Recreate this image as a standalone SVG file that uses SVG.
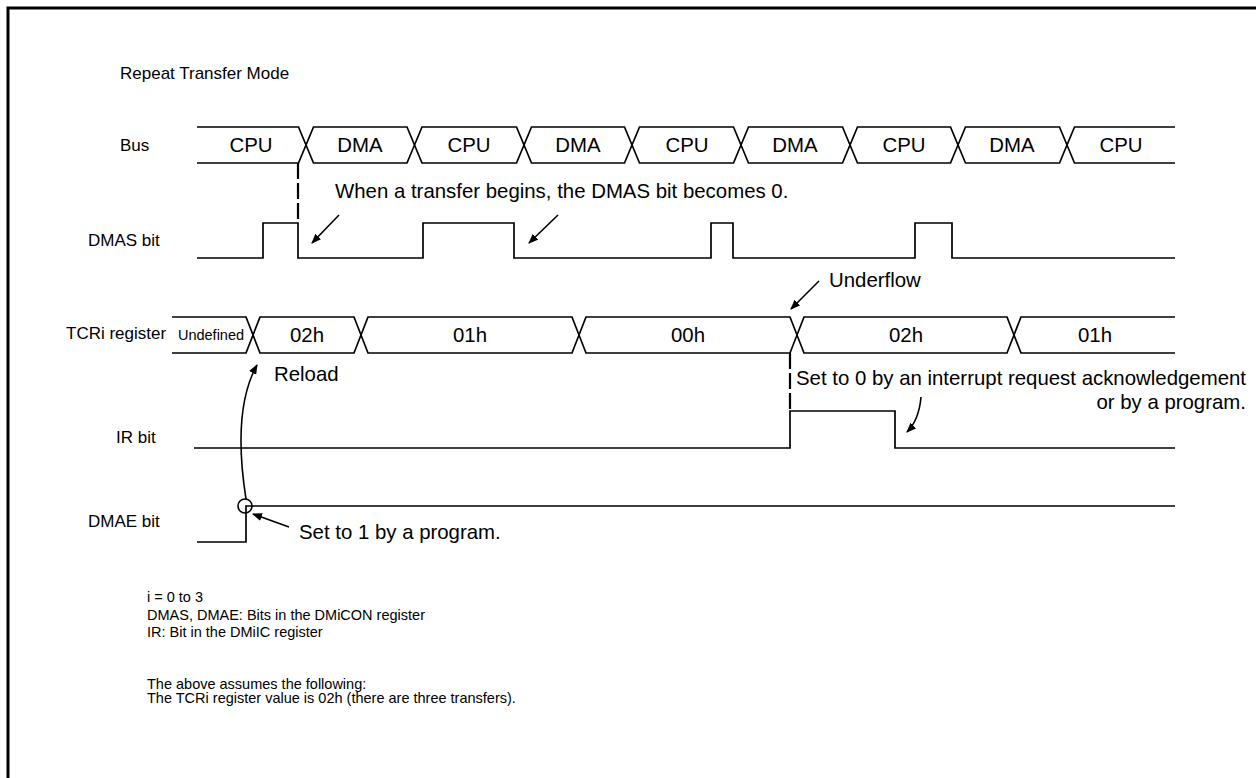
<svg xmlns="http://www.w3.org/2000/svg" width="1256" height="778" viewBox="0 0 1256 778">
<style>
text{font-family:"Liberation Sans",Arial,sans-serif;fill:#000}
.lbl{font-size:17px}
.big{font-size:20.4px}
.note{font-size:14.5px}
.sig{fill:none;stroke:#000;stroke-width:1.7}
.dash{fill:none;stroke:#000;stroke-width:2.2;stroke-dasharray:16 4}
.arr{fill:none;stroke:#000;stroke-width:1.6;marker-end:url(#ah)}
</style>
<defs>
<marker id="ah" viewBox="0 0 10 8" refX="9" refY="4" markerWidth="10" markerHeight="8" markerUnits="userSpaceOnUse" orient="auto">
<path d="M0,0 L10,4 L0,8 z" fill="#000"/>
</marker>
</defs>
<rect width="1256" height="778" fill="#fff"/>
<path d="M8,778 V8 H1256" fill="none" stroke="#000" stroke-width="3"/>
<text class="lbl" x="120" y="79">Repeat Transfer Mode</text>

<g id="labels">
<text class="lbl" x="120" y="151">Bus</text>
<text class="lbl" x="88" y="246">DMAS bit</text>
<text class="lbl" x="66" y="339">TCRi register</text>
<text class="lbl" x="116" y="443">IR bit</text>
<text class="lbl" x="88" y="527">DMAE bit</text>
</g>

<g id="bus">
<path class="sig" d="M197,163 H298.5 L313.5,127 H407 L422,163 H516.5 L531.5,127 H624.5 L639.5,163 H733.5 L748.5,127 H842.5 L857.5,163 H950.5 L965.5,127 H1059.5 L1074.5,163 H1175"/>
<path class="sig" d="M197,127 H298.5 L313.5,163 H407 L422,127 H516.5 L531.5,163 H624.5 L639.5,127 H733.5 L748.5,163 H842.5 L857.5,127 H950.5 L965.5,163 H1059.5 L1074.5,127 H1175"/>
<g class="big" text-anchor="middle">
<text x="251" y="152">CPU</text>
<text x="360" y="152">DMA</text>
<text x="469" y="152">CPU</text>
<text x="578" y="152">DMA</text>
<text x="687" y="152">CPU</text>
<text x="795" y="152">DMA</text>
<text x="904" y="152">CPU</text>
<text x="1012" y="152">DMA</text>
<text x="1121" y="152">CPU</text>
</g>
</g>

<g id="dmas">
<path class="sig" d="M197,258 H263 V223 H298 V258 H423 V223 H514 V258 H711 V223 H733 V258 H915 V223 H952 V258 H1175"/>
<text class="big" x="335" y="198">When a transfer begins, the DMAS bit becomes 0.</text>
</g>

<g id="tcri">
<path class="sig" d="M172,317 H246 L260,353 H354 L368,317 H572 L586,353 H790 L804,317 H1007 L1021,353 H1175"/>
<path class="sig" d="M172,353 H246 L260,317 H354 L368,353 H572 L586,317 H790 L804,353 H1007 L1021,317 H1175"/>
<text x="211" y="340" style="font-size:14.5px" text-anchor="middle">Undefined</text>
<g class="big" text-anchor="middle">
<text x="307" y="342">02h</text>
<text x="470" y="342">01h</text>
<text x="688" y="342">00h</text>
<text x="906" y="342">02h</text>
<text x="1095" y="342">01h</text>
</g>
<text class="big" x="829" y="287">Underflow</text>
<text class="big" x="274" y="381">Reload</text>
</g>

<g id="ir">
<path class="sig" d="M194,448 H790 V411 H895 V448 H1175"/>
<text class="big" x="796" y="385">Set to 0 by an interrupt request acknowledgement</text>
<text class="big" x="1246" y="409" text-anchor="end">or by a program.</text>
</g>

<g id="dmae">
<path class="sig" d="M197,542 H246 V506 H1175"/>
<circle cx="245" cy="506" r="7" fill="none" stroke="#000" stroke-width="1.6"/>
<text class="big" x="299" y="539">Set to 1 by a program.</text>
</g>

<g id="connectors">
<path class="dash" d="M298,163 V223"/>
<path class="dash" d="M790,353 V411"/>
<path class="arr" d="M339,215 L312,243"/>
<path class="arr" d="M558,215 L529,243"/>
<path class="arr" d="M819,281 L791,309"/>
<path class="arr" d="M246,499 Q232,410 257,365"/>
<path class="arr" d="M921,397 Q919,420 907,432"/>
<path class="arr" d="M289,527 L253,514"/>
</g>

<g id="notes" class="note">
<text x="147" y="602">i = 0 to 3</text>
<text x="147" y="620">DMAS, DMAE: Bits in the DMiCON register</text>
<text x="147" y="637">IR: Bit in the DMiIC register</text>
<text x="147" y="689">The above assumes the following:</text>
<text x="147" y="703">The TCRi register value is 02h (there are three transfers).</text>
</g>
</svg>
